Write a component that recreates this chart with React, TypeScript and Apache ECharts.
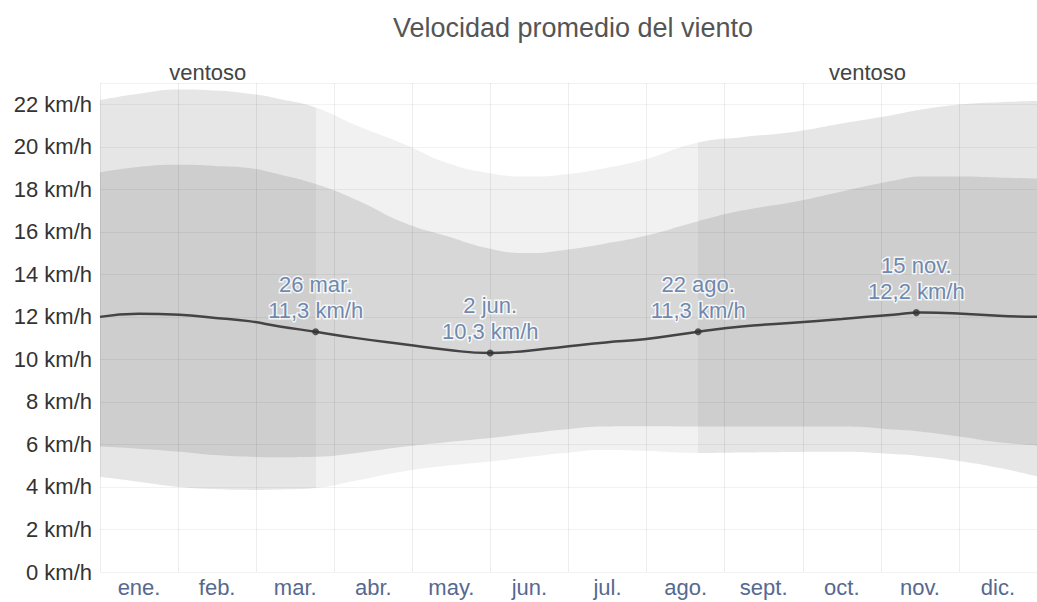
import React, { useEffect, useRef } from "react";
import * as echarts from "echarts";

const months = ["ene.", "feb.", "mar.", "abr.", "may.", "jun.", "jul.", "ago.", "sept.", "oct.", "nov.", "dic."];

// day of year for each sample
const days = [0, 15, 31, 45, 58, 70, 84, 100, 119, 135, 152, 166, 181, 197, 212, 233, 250, 270, 289, 309, 320, 336, 350, 365];
// 90th percentile
const p90 = [22.2, 22.5, 22.7, 22.65, 22.5, 22.25, 21.85, 21.0, 20.1, 19.25, 18.75, 18.6, 18.7, 19.0, 19.4, 20.2, 20.45, 20.7, 21.1, 21.5, 21.75, 22.0, 22.1, 22.15];
// 75th percentile
const p75 = [18.8, 19.05, 19.15, 19.1, 19.0, 18.7, 18.25, 17.5, 16.4, 15.8, 15.2, 15.0, 15.15, 15.45, 15.8, 16.5, 17.0, 17.4, 17.9, 18.4, 18.6, 18.6, 18.55, 18.5];
// 25th percentile
const p25 = [5.9, 5.8, 5.66, 5.5, 5.42, 5.4, 5.42, 5.6, 5.9, 6.1, 6.3, 6.5, 6.7, 6.84, 6.85, 6.84, 6.84, 6.84, 6.84, 6.7, 6.6, 6.35, 6.1, 5.95];
// 10th percentile
const p10 = [4.48, 4.25, 4.0, 3.9, 3.86, 3.88, 3.95, 4.3, 4.75, 5.0, 5.2, 5.4, 5.6, 5.74, 5.7, 5.6, 5.62, 5.65, 5.66, 5.55, 5.45, 5.2, 4.9, 4.5];
// mean wind speed
const mean = [12.0, 12.15, 12.1, 11.95, 11.8, 11.55, 11.3, 11.0, 10.7, 10.45, 10.3, 10.4, 10.6, 10.8, 10.95, 11.3, 11.55, 11.72, 11.9, 12.1, 12.2, 12.15, 12.05, 12.0];

const windyPeriods = [[0, 84], [233, 365]];
const windyLabel = "ventoso";

const annDays = [84, 152, 233, 318];
const annValues = [11.3, 10.3, 11.3, 12.2];
const annDates = ["26 mar.", "2 jun.", "22 ago.", "15 nov."];

const yMin = 0;
const yMax = 23;
const yInterval = 2;

const FONT = "'Liberation Sans', Arial, Helvetica, sans-serif";

const OUTER_WINDY = "#e6e6e6";
const OUTER_CALM = "#f1f1f1";
const INNER_WINDY = "#cecece";
const INNER_CALM = "#d7d7d7";

function pieces(windy: string, calm: string) {
  return [
    { lt: windyPeriods[0][1], color: windy },
    { gte: windyPeriods[0][1], lt: windyPeriods[1][0], color: calm },
    { gte: windyPeriods[1][0], color: windy },
  ];
}

function bandSeries(values: number[], fill?: string) {
  return {
    type: "line",
    xAxisIndex: 0,
    z: -1,
    smooth: true,
    symbol: "none",
    silent: true,
    lineStyle: { width: 0 },
    areaStyle: fill ? { opacity: 1, color: fill, origin: "start" } : { opacity: 1, origin: "start" },
    data: days.map((d, i) => [d, values[i]]),
  };
}

export default function App() {
  const ref = useRef<HTMLDivElement>(null);
  useEffect(() => {
    document.body.style.margin = "0";
    const chart = echarts.init(ref.current!, null, { renderer: "svg" });
    const option: any = {
      animation: false,
      backgroundColor: "#ffffff",
      textStyle: { fontFamily: FONT },
      grid: { left: 100, right: -9, top: 83, bottom: 30, containLabel: false },
      graphic: [
        {
          type: "text",
          x: 573,
          y: 28,
          style: {
            text: "Velocidad promedio del viento",
            fontSize: 27,
            fontFamily: FONT,
            fill: "#555555",
            align: "center",
            verticalAlign: "middle",
          },
        },
      ],
      xAxis: [
        { type: "value", min: 0, max: 365, show: false },
        {
          type: "category",
          data: months,
          boundaryGap: true,
          position: "bottom",
          z: 3,
          axisLine: { show: false, onZero: false },
          axisTick: { show: false },
          axisLabel: { interval: 0, color: "#56698f", fontSize: 22, fontFamily: FONT, margin: 4 },
          splitLine: { show: true, interval: 0, lineStyle: { color: "rgba(0,0,0,0.07)", width: 1 } },
        },
      ],
      yAxis: {
        type: "value",
        min: yMin,
        max: yMax,
        interval: yInterval,
        z: 3,
        axisLine: { show: false },
        axisTick: { show: false },
        axisLabel: {
          color: "#333333",
          fontSize: 22,
          fontFamily: FONT,
          margin: 8,
          formatter: (v: number) => (v % 2 === 0 ? `${v} km/h` : ""),
        },
        splitLine: { lineStyle: { color: "rgba(0,0,0,0.05)", width: 1 } },
      },
      visualMap: [
        { type: "piecewise", show: false, dimension: 0, seriesIndex: [0, 2], pieces: pieces(OUTER_WINDY, OUTER_CALM) },
        { type: "piecewise", show: false, dimension: 0, seriesIndex: 1, pieces: pieces(INNER_WINDY, INNER_CALM) },
      ],
      series: [
        bandSeries(p90),
        bandSeries(p75),
        bandSeries(p25),
        bandSeries(p10, "#ffffff"),
        {
          type: "line",
          xAxisIndex: 0,
          smooth: true,
          symbol: "none",
          z: 5,
          lineStyle: { color: "#444444", width: 2.5 },
          data: days.map((d, i) => [d, mean[i]]),
          markArea: {
            silent: true,
            itemStyle: { color: "rgba(0,0,0,0)" },
            label: {
              show: true,
              position: "top",
              distance: 0,
              color: "#444444",
              fontSize: 22,
              fontFamily: FONT,
            },
            data: windyPeriods.map((p) => [{ xAxis: p[0], name: windyLabel }, { xAxis: p[1] }]),
          },
        },
        {
          type: "scatter",
          xAxisIndex: 0,
          z: 6,
          symbol: "circle",
          symbolSize: 7,
          itemStyle: { color: "#333333" },
          data: annDays.map((d, i) => [d, annValues[i]]),
          label: {
            show: true,
            position: "top",
            distance: 5,
            color: "#4a6c9b",
            fontSize: 22,
            lineHeight: 26,
            fontFamily: FONT,
            textBorderColor: "#ffffff",
            textBorderWidth: 3,
            formatter: (p: any) =>
              `${annDates[p.dataIndex]}\n${String(annValues[p.dataIndex]).replace(".", ",")} km/h`,
          },
        },
      ],
    };
    chart.setOption(option);
    return () => chart.dispose();
  }, []);
  return <div ref={ref} style={{ width: 1037, height: 602 }} />;
}
